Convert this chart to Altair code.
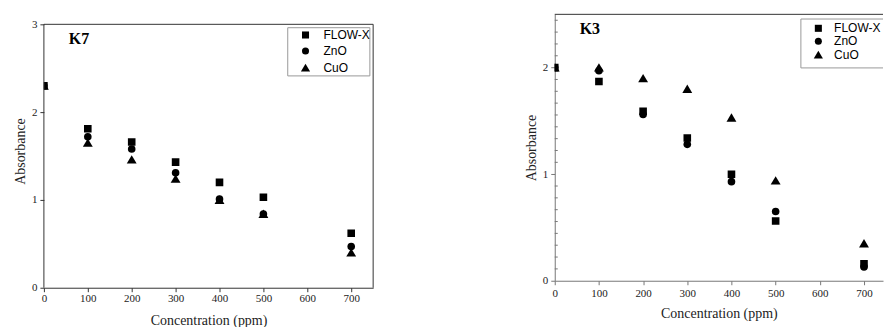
import altair as alt
import pandas as pd

# ---------------- data ----------------
conc = [0, 100, 200, 300, 400, 500, 700]
series = ["FLOW-X", "ZnO", "CuO"]
shapes = ["square", "circle", "M0,-1.15L1.3,1.05L-1.3,1.05Z"]

k7_flowx = [2.30, 1.81, 1.66, 1.43, 1.20, 1.03, 0.62]
k7_zno = [2.30, 1.72, 1.58, 1.31, 1.01, 0.84, 0.47]
k7_cuo = [2.30, 1.65, 1.46, 1.24, 1.00, 0.84, 0.40]

k3_flowx = [2.00, 1.87, 1.59, 1.34, 1.00, 0.56, 0.16]
k3_zno = [2.00, 1.97, 1.56, 1.28, 0.93, 0.65, 0.13]
k3_cuo = [2.00, 2.00, 1.90, 1.80, 1.53, 0.94, 0.35]

x_ticks = [0, 100, 200, 300, 400, 500, 600, 700]
k7_yticks = [0, 1, 2, 3]
k7_ytop = 3
k3_yticks = [0, 1, 2]
k3_minor = [i + k / 9 for i in range(3) for k in range(1, 9) if i + k / 9 < 2.5]

SERIF = "Liberation Serif"
SANS = "Liberation Sans"


def long_df(a, b, c):
    rows = []
    for name, vals in zip(series, [a, b, c]):
        for x, y in zip(conc, vals):
            rows.append({"conc": x, "abs": y, "series": name})
    return pd.DataFrame(rows)


def panel(df, label, width, height, xdom, ydom, yticks, axcol, leg, title_pad_x,
          lab_pad_x, label_y, box, kind):
    xs = alt.Scale(domain=xdom, nice=False, zero=False)
    ys = alt.Scale(domain=ydom, nice=False, zero=False)
    xax = alt.Axis(values=x_ticks, title="Concentration (ppm)", grid=False,
                   labelFont=SERIF, labelFontSize=11, labelColor="#222",
                   titleFont=SERIF, titleFontSize=14, titleFontWeight="normal",
                   titleColor="#222", tickSize=4, tickColor=axcol,
                   domainColor=axcol, labelPadding=lab_pad_x,
                   titlePadding=title_pad_x, labelFlush=False)
    yax = alt.Axis(values=yticks, format="d", title="Absorbance", grid=False,
                   labelFont=SERIF, labelFontSize=11, labelColor="#222",
                   titleFont=SERIF, titleFontSize=14, titleFontWeight="normal",
                   titleColor="#222", tickSize=4, tickColor=axcol,
                   domainColor=axcol, domain=(kind == "k3"), labelPadding=3,
                   titlePadding=4, labelFlush=False)
    pts = alt.Chart(df).mark_point(filled=True, color="black", size=58,
                                   opacity=1, clip=True).encode(
        x=alt.X("conc:Q", scale=xs, axis=xax),
        y=alt.Y("abs:Q", scale=ys, axis=yax),
        shape=alt.Shape("series:N", scale=alt.Scale(domain=series, range=shapes),
                        legend=leg),
    )
    lab = alt.Chart(pd.DataFrame({"t": [label]})).mark_text(
        font=SERIF, fontSize=16, fontWeight="bold", align="left",
        baseline="alphabetic", color="black"
    ).encode(x=alt.value(25), y=alt.value(label_y), text="t:N")
    one = pd.DataFrame({"z": [0]})
    layers = [pts, lab]
    # legend frame
    bx0, bx1, by0, by1 = box
    bcol = "#999"
    layers += [
        alt.Chart(one).mark_rule(color=bcol).encode(x=alt.value(bx0), y=alt.value(by0), y2=alt.value(by1)),
        alt.Chart(one).mark_rule(color=bcol).encode(x=alt.value(bx0), x2=alt.value(bx1), y=alt.value(by0)),
        alt.Chart(one).mark_rule(color=bcol).encode(x=alt.value(bx0), x2=alt.value(bx1), y=alt.value(by1)),
    ]
    if kind == "k7":
        layers.append(alt.Chart(one).mark_rule(color=bcol).encode(
            x=alt.value(bx1), y=alt.value(by0), y2=alt.value(by1)))
        # plot frame drawn on the data range 0..3
        layers += [
            alt.Chart(one).mark_rule(color=axcol).encode(
                x=alt.value(0), x2=alt.value(width), y=alt.datum(k7_ytop, scale=ys)),
            alt.Chart(one).mark_rule(color=axcol).encode(
                x=alt.value(0), y=alt.datum(k7_ytop, scale=ys), y2=alt.datum(0)),
            alt.Chart(one).mark_rule(color=axcol).encode(
                x=alt.value(width), y=alt.datum(k7_ytop, scale=ys), y2=alt.datum(0)),
        ]
    else:
        mdf = pd.DataFrame({"m": k3_minor})
        layers += [
            alt.Chart(mdf).mark_rule(color=axcol, strokeWidth=1).encode(
                y=alt.Y("m:Q", scale=ys), x=alt.value(0), x2=alt.value(3)),
            alt.Chart(one).mark_rule(color="#333", strokeWidth=1).encode(
                x=alt.value(0), x2=alt.value(width), y=alt.value(0)),
        ]
    ch = alt.layer(*layers).properties(
        width=width, height=height,
        view=alt.ViewBackground(stroke=None, strokeWidth=0))
    return ch


leg_k7 = alt.Legend(title=None, orient="none", legendX=256.2, legendY=14.7,
                    labelFont=SANS, labelFontSize=12, labelColor="black",
                    symbolSize=50, symbolFillColor="black", symbolStrokeColor="black",
                    strokeColor="transparent", padding=0, rowPadding=2, labelOffset=12)
leg_k3 = alt.Legend(title=None, orient="none", legendX=258.2, legendY=8,
                    labelFont=SANS, labelFontSize=12, labelColor="black",
                    symbolSize=50, symbolFillColor="black", symbolStrokeColor="black",
                    strokeColor="transparent", padding=0, rowPadding=-1.5, labelOffset=9.8)

# K7 panel: y range extends above 3 so that its frame sits 10 px below K3's
left = panel(long_df(k7_flowx, k7_zno, k7_cuo), "K7", 330, 274, [0, 750], [0, 274 / 88],
             k7_yticks, "#333", leg_k7, 10, 1, 29.4, (244.4, 326.7, 13.4, 61.7), "k7")
right = panel(long_df(k3_flowx, k3_zno, k3_cuo), "K3", 329, 267, [0, 743], [0, 2.5],
              k3_yticks, "#777", leg_k3, 8.5, 2.5, 19.4, (246.7, 329, 4.7, 53.7), "k3")

chart = alt.hconcat(left, right, spacing=150).resolve_scale(
    shape="independent", x="independent", y="independent"
).resolve_legend(shape="independent").properties(
    padding={"left": 13, "top": 13, "right": 0, "bottom": 0}
).configure_view(stroke=None)

chart.save("out.html", embed_options={"renderer": "svg", "actions": False})
